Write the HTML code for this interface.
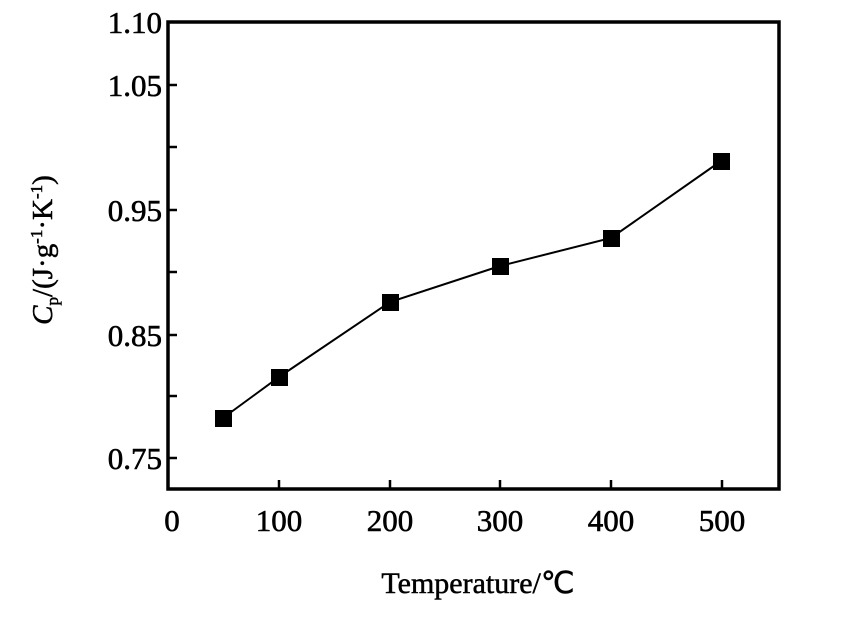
<!DOCTYPE html>
<html><head><style>body{margin:0;background:#fff}</style></head><body>
<svg width="851" height="625" xmlns="http://www.w3.org/2000/svg" font-family="Liberation Serif, serif">
<rect x="168" y="22" width="611" height="467" fill="none" stroke="#000" stroke-width="3.5"/>
<g stroke="#000" stroke-width="2.5">
<line x1="168" y1="85" x2="177" y2="85"/><line x1="168" y1="147" x2="177" y2="147"/>
<line x1="168" y1="210" x2="177" y2="210"/><line x1="168" y1="272" x2="177" y2="272"/>
<line x1="168" y1="335" x2="177" y2="335"/><line x1="168" y1="396" x2="177" y2="396"/>
<line x1="168" y1="458" x2="177" y2="458"/>
<line x1="279" y1="489" x2="279" y2="480"/><line x1="390" y1="489" x2="390" y2="480"/>
<line x1="500" y1="489" x2="500" y2="480"/><line x1="611" y1="489" x2="611" y2="480"/>
<line x1="722" y1="489" x2="722" y2="480"/>
</g>
<g font-size="31" text-anchor="end" stroke="#000" stroke-width="0.6">
<text x="162" y="33">1.10</text><text x="162" y="96">1.05</text>
<text x="162" y="221">0.95</text><text x="162" y="346">0.85</text><text x="162" y="469">0.75</text>
</g>
<g font-size="31" text-anchor="middle" stroke="#000" stroke-width="0.6">
<text x="172" y="531">0</text><text x="279" y="531">100</text><text x="390" y="531">200</text>
<text x="500" y="531">300</text><text x="611" y="531">400</text><text x="722" y="531">500</text>
</g>
<text x="478" y="593" font-size="30" text-anchor="middle" stroke="#000" stroke-width="0.5">Temperature/℃</text>
<text transform="translate(52,250) rotate(-90)" font-size="29" text-anchor="middle" stroke="#000" stroke-width="0.5"><tspan font-style="italic">C</tspan><tspan font-size="17" dy="6">p</tspan><tspan dy="-6">/(J·g</tspan><tspan font-size="17" dy="-10">-1</tspan><tspan dy="10">·K</tspan><tspan font-size="17" dy="-10">-1</tspan><tspan dy="10">)</tspan></text>
<polyline points="223,418 279,377 390,302 500,266 611,238 721,161" fill="none" stroke="#000" stroke-width="2"/>
<g fill="#000">
<rect x="215" y="410" width="17" height="17"/><rect x="271" y="369" width="17" height="17"/>
<rect x="382" y="294" width="17" height="17"/><rect x="492" y="258" width="17" height="17"/>
<rect x="603" y="230" width="17" height="17"/><rect x="713" y="153" width="17" height="17"/>
</g>
</svg>
</body></html>
